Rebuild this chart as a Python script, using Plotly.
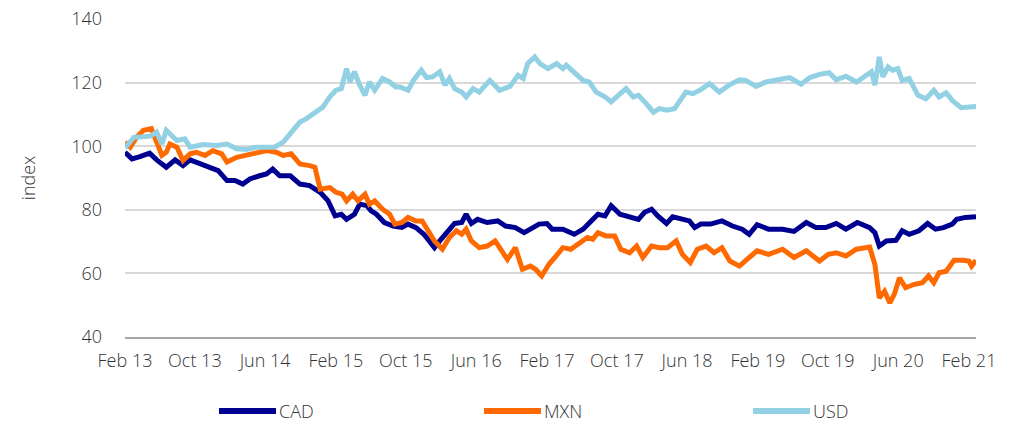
import numpy as np
import pandas as pd
import plotly.graph_objects as go

# time in months since 1 Feb 2013, values (index)
usd_month = [0, 1.0, 2.1, 2.9, 3.6, 4.2, 4.7, 5.9, 6.8, 7.4, 8.9, 10.4, 11.6, 12.7, 13.8, 15.0, 16.1, 17.0,
             18.0, 18.8, 19.9, 20.6, 21.4, 22.5, 23.3, 24.0, 24.6, 25.2, 25.6, 26.1, 26.7, 27.3, 27.8, 28.4,
             29.3, 30.1, 30.8, 31.3, 32.2, 32.8, 33.7, 34.3, 35.0, 35.8, 36.4, 36.9, 37.5, 38.3, 38.8, 39.6,
             40.3, 41.5, 42.6, 43.8, 44.7, 45.3, 45.8, 46.6, 47.2, 48.1, 49.1, 49.8, 50.2, 51.3, 52.1, 52.8,
             53.6, 54.6, 55.3, 56.1, 57.0, 57.8, 58.4, 59.3, 60.1, 60.8, 61.6, 62.5, 63.1, 63.8, 64.6, 65.5,
             66.5, 67.6, 68.7, 69.9, 70.6, 71.8, 72.9, 74.1, 75.6, 76.9, 77.9, 79.0, 80.1, 80.9, 82.0, 83.2,
             84.1, 84.9, 85.3, 85.8, 86.2, 86.8, 87.3, 87.9, 88.4, 89.2, 90.2, 91.1, 92.0, 92.6, 93.4, 94.1,
             95.1, 96.0, 96.8]
usd_value = [99.5, 102.8, 103.0, 103.2, 104.4, 100.7, 105.0, 101.8, 102.3, 99.7, 100.5, 100.2, 100.7, 99.2,
             99.0, 99.7, 99.7, 99.7, 101.3, 103.9, 107.6, 108.6, 110.2, 112.3, 115.5, 117.6, 118.1, 124.4,
             120.2, 123.4, 119.2, 116.0, 120.2, 117.6, 121.3, 120.2, 118.6, 118.6, 117.6, 120.7, 123.9, 121.6,
             121.8, 123.4, 119.2, 121.3, 118.1, 117.0, 115.5, 118.1, 117.0, 120.7, 117.6, 118.8, 122.3, 121.3,
             126.0, 128.1, 126.0, 124.4, 126.0, 124.4, 125.5, 122.8, 120.7, 120.2, 117.0, 115.5, 113.9, 116.0,
             118.1, 115.5, 116.0, 113.4, 110.7, 111.8, 111.3, 111.8, 114.4, 117.0, 116.5, 117.8, 119.7, 117.0,
             119.2, 120.9, 120.7, 118.8, 120.2, 120.7, 121.6, 119.5, 121.6, 122.6, 123.1, 120.9, 122.0, 120.2,
             121.8, 123.4, 119.2, 128.1, 121.8, 124.9, 123.9, 124.4, 120.7, 121.3, 116.0, 114.9, 117.6, 115.5,
             116.8, 114.4, 112.1, 112.5, 112.5]

cad_month = [0, 0.8, 1.7, 2.8, 3.6, 4.7, 5.7, 6.6, 7.4, 8.5, 9.7, 10.6, 11.6, 12.5, 13.4, 14.2, 15.3, 16.1,
             16.8, 17.6, 18.8, 19.9, 21.0, 22.2, 23.1, 23.9, 24.6, 25.2, 26.1, 26.7, 27.5, 28.0, 28.6, 29.5,
             30.5, 31.5, 32.2, 33.1, 34.0, 34.5, 35.2, 35.8, 36.7, 37.5, 38.3, 38.8, 39.4, 40.1, 41.2, 42.4,
             43.3, 44.4, 45.4, 46.3, 47.1, 48.0, 48.6, 49.8, 51.1, 52.1, 53.1, 53.8, 54.6, 55.3, 56.3, 57.4,
             58.4, 59.1, 59.9, 60.6, 61.6, 62.3, 63.3, 64.2, 64.8, 65.5, 66.6, 67.9, 69.1, 70.2, 71.0, 71.9,
             73.2, 74.8, 76.1, 77.5, 78.6, 79.7, 80.9, 82.0, 83.3, 84.7, 85.3, 85.8, 86.6, 87.7, 88.4, 89.2,
             90.3, 91.3, 92.2, 93.1, 94.1, 94.6, 95.6, 96.8]
cad_value = [98.1, 96.0, 96.7, 97.8, 95.7, 93.4, 95.7, 93.9, 95.7, 94.4, 93.4, 92.3, 89.2, 89.2, 88.1, 89.7,
             90.7, 91.3, 92.8, 90.7, 90.7, 88.1, 87.6, 85.5, 82.8, 78.1, 78.6, 77.0, 78.6, 81.8, 81.3, 79.7,
             78.6, 76.0, 74.9, 74.5, 75.5, 74.4, 72.3, 70.7, 68.1, 70.2, 73.4, 75.7, 76.0, 78.6, 75.7, 77.0,
             76.0, 76.5, 74.9, 74.4, 72.8, 74.4, 75.5, 75.7, 73.9, 73.9, 72.3, 73.9, 76.5, 78.6, 78.1, 81.3,
             78.6, 77.6, 77.0, 79.2, 80.2, 78.1, 75.7, 77.8, 77.0, 76.5, 74.4, 75.5, 75.5, 76.5, 74.9, 73.9,
             72.3, 75.3, 73.9, 73.9, 73.2, 76.0, 74.4, 74.4, 75.7, 73.9, 76.0, 74.4, 72.8, 68.6, 70.2, 70.4,
             73.4, 72.3, 73.4, 75.7, 73.9, 74.4, 75.5, 77.0, 77.6, 77.8]

mxn_month = [0, 0.6, 1.3, 2.1, 3.0, 3.6, 4.2, 4.7, 5.1, 5.9, 6.6, 7.4, 8.1, 9.1, 10.0, 11.0, 11.6, 12.7, 13.8,
             15.0, 16.1, 17.2, 18.0, 18.9, 19.9, 21.0, 21.6, 22.2, 23.3, 24.0, 24.7, 25.2, 25.9, 26.5, 27.3,
             27.8, 28.4, 29.3, 30.1, 30.7, 31.5, 32.2, 33.1, 33.8, 34.5, 35.2, 36.1, 36.9, 37.7, 38.3, 38.8,
             39.4, 40.3, 41.2, 42.1, 42.6, 43.5, 44.4, 45.2, 46.1, 46.7, 47.4, 48.2, 48.9, 49.8, 50.7, 51.6,
             52.6, 53.2, 53.8, 54.7, 55.7, 56.4, 57.4, 58.2, 58.9, 59.9, 60.8, 61.7, 62.7, 63.4, 64.3, 65.1,
             66.1, 67.0, 67.9, 68.8, 69.9, 71.0, 71.9, 73.2, 74.8, 76.1, 77.5, 79.0, 80.0, 80.9, 82.0, 83.2,
             84.7, 85.3, 85.8, 86.4, 87.0, 87.5, 88.1, 88.8, 89.7, 90.7, 91.4, 92.0, 92.6, 93.4, 94.3, 95.3,
             96.0, 96.3, 96.8]
mxn_value = [101.3, 99.7, 102.8, 105.0, 105.5, 101.3, 97.1, 98.1, 100.7, 99.7, 95.5, 97.6, 98.1, 97.1, 98.6,
             97.6, 95.0, 96.5, 97.1, 98.1, 98.6, 98.1, 97.1, 97.6, 94.4, 93.9, 93.4, 86.5, 87.0, 85.5, 84.9,
             82.8, 84.9, 82.8, 84.9, 81.8, 82.8, 80.2, 78.6, 75.5, 76.0, 77.6, 76.5, 76.5, 73.4, 70.2, 67.6,
             71.3, 73.4, 72.3, 73.9, 70.2, 68.1, 68.6, 70.2, 68.1, 64.4, 68.1, 61.3, 62.3, 61.3, 59.2, 62.8,
             65.0, 68.1, 67.6, 69.2, 71.3, 70.7, 72.8, 71.8, 71.8, 67.6, 66.5, 68.6, 65.0, 68.6, 68.1, 68.1,
             70.2, 66.0, 63.4, 67.6, 68.6, 66.5, 68.1, 63.9, 62.3, 65.0, 67.1, 66.0, 67.6, 65.0, 67.1, 63.9,
             66.0, 66.5, 65.5, 67.6, 68.3, 62.8, 52.3, 54.4, 50.7, 53.4, 58.6, 55.5, 56.5, 57.1, 59.2, 57.1,
             60.2, 60.7, 64.1, 64.1, 63.9, 62.3, 64.1]

series_names = ["CAD", "MXN", "USD"]
series_colors = ["#000090", "#FF6A00", "#92D1E4"]
y_ticks = [40, 60, 80, 100, 120, 140]

start = pd.Timestamp("2013-02-01")


def to_dates(months):
    return start + pd.to_timedelta(np.array(months) * 30.4375, unit="D")


fig = go.Figure()
for name, months, vals, col in [
    ("CAD", cad_month, cad_value, series_colors[0]),
    ("MXN", mxn_month, mxn_value, series_colors[1]),
    ("USD", usd_month, usd_value, series_colors[2]),
]:
    fig.add_trace(go.Scatter(x=to_dates(months), y=vals, mode="lines", name=name,
                             line=dict(color=col, width=5), showlegend=False))

font_family = "Open Sans, Noto Sans, sans-serif"
text_color = "#333333"
end_date = to_dates([96.8])[0]

# legend drawn below the plot (paper coordinates)
L, W, T, H = 125, 851, 19, 318
legend_left_px = [219, 484, 753]
legend_y_px = 411
shapes, annotations = [], []
for name, col, px in zip(series_names, series_colors, legend_left_px):
    y = (T + H - legend_y_px) / H
    shapes.append(dict(type="line", xref="paper", yref="paper",
                       x0=(px - L) / W, x1=(px + 57 - L) / W, y0=y, y1=y,
                       line=dict(color=col, width=6)))
    annotations.append(dict(text=name, xref="paper", yref="paper", x=(px + 59 - L) / W, y=y,
                            xanchor="left", yanchor="middle", showarrow=False, borderpad=0,
                            font=dict(size=18, color=text_color, weight=300)))

fig.update_layout(
    width=1020, height=425,
    margin=dict(l=L, r=1020 - L - W, t=T, b=425 - T - H, autoexpand=False),
    plot_bgcolor="white", paper_bgcolor="white",
    font=dict(family=font_family, size=18, color=text_color, weight=300),
    showlegend=False,
    shapes=shapes, annotations=annotations,
    xaxis=dict(type="date", range=[start, end_date], tick0="2013-02-01", dtick="M8",
               tickformat="%b %y", showgrid=False, showline=True, linecolor="#A6A6A6",
               linewidth=2, ticks="", zeroline=False, ticklabelstandoff=6),
    yaxis=dict(range=[40, 140], tickvals=y_ticks, showgrid=True, gridcolor="#D9D9D9",
               gridwidth=1.5, zeroline=False, showline=False, ticks="", ticklabelstandoff=22,
               title=dict(text="index", standoff=30, font=dict(size=18, color=text_color, weight=300))),
)

fig.write_html("out.html", config={"displayModeBar": False},
               post_script="document.body.style.margin='0';")
